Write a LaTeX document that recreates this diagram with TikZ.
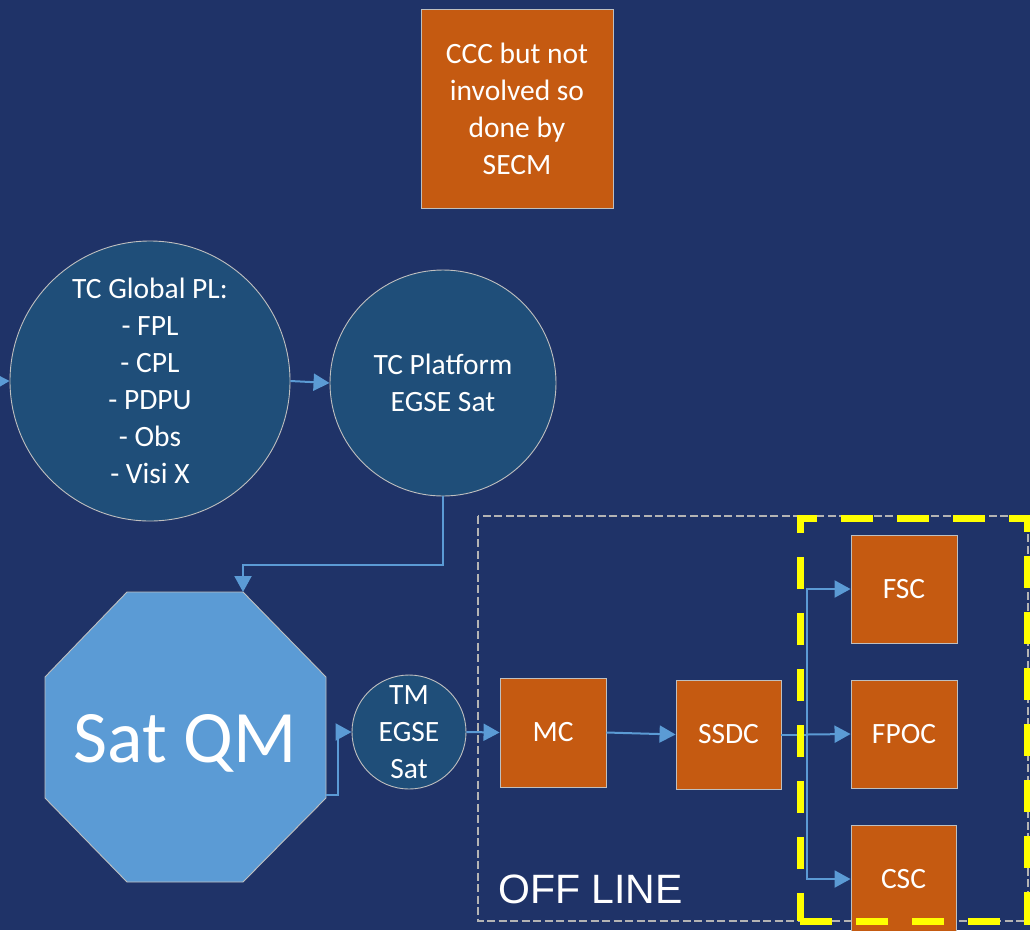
\documentclass[tikz,border=0pt]{standalone}
\usepackage{fontspec}
\setmainfont{Carlito}
\newfontfamily\arialf{Liberation Sans}
\usetikzlibrary{arrows.meta,calc}
\definecolor{bg}{RGB}{31,51,104}
\definecolor{circfill}{RGB}{31,78,121}
\definecolor{orng}{RGB}{197,90,17}
\definecolor{qmblue}{RGB}{91,155,213}
\definecolor{edgegray}{RGB}{191,191,191}
\definecolor{dashgray}{RGB}{180,180,180}
\definecolor{arrblue}{RGB}{91,155,213}
\definecolor{ylw}{RGB}{255,255,0}
\begin{document}
\begin{tikzpicture}[x=1pt,y=-1pt,
  txt/.style={text=white,font=\fontsize{29.5}{37}\selectfont,align=center},
  obox/.style={txt,rectangle,fill=orng,draw=edgegray,line width=0.9pt,inner sep=0pt},
  circ/.style={txt,circle,fill=circfill,draw=edgegray,line width=0.9pt,inner sep=0pt},
  arr/.style={draw=arrblue,line width=2pt,-{Triangle[length=16pt,width=17pt]}},
  conn/.style={draw=arrblue,line width=2pt}]
\fill[bg] (0,0) rectangle (1030,930);
\useasboundingbox (0,0) rectangle (1030,930);

% off-line dashed frame
\draw[dashgray,line width=2.5pt,dash pattern=on 8pt off 3.5pt] (478,516) rectangle (1028,921);

% top box
\node[obox,minimum width=192pt,minimum height=199pt] (ccc) at (517,108.5)
  {CCC but not\\involved so\\done by\\SECM};

% circles
\node[circ,minimum size=280pt] (glob) at (150,381)
  {TC Global PL:\\- FPL\\- CPL\\- PDPU\\- Obs\\- Visi X};
\node[circ,minimum size=226pt] (plat) at (443,383) {TC Platform\\EGSE Sat};
\node[circ,minimum size=114pt] (tm) at (409,732) {TM\\EGSE\\Sat};

% octagon
\filldraw[fill=qmblue,draw=edgegray,line width=0.9pt]
  (127,592) -- (243,592) -- (326,677) -- (326,798) -- (243,882) -- (127,882) -- (45,798) -- (45,677) -- cycle;
\coordinate (qmtop) at (243,592);
\coordinate (qmout) at (326,795);
\node[text=white,font=\fontsize{74}{80}\selectfont,inner sep=0pt,anchor=base] (qm) at (185,762) {Sat QM};

% orange boxes
\node[obox,minimum width=106pt,minimum height=109pt] (mc) at (553,732.5) {MC};
\node[obox,minimum width=105pt,minimum height=109pt] (ssdc) at (728.5,734.5) {SSDC};
\node[obox,minimum width=106pt,minimum height=108pt] (fsc) at (904,589) {FSC};
\node[obox,minimum width=106pt,minimum height=108pt] (fpoc) at (904,734) {FPOC};
\node[obox,minimum width=105pt,minimum height=108pt] (csc) at (903.5,879) {CSC};

% OFF LINE label
\node[text=white,font=\arialf\fontsize{41}{45}\selectfont,anchor=base west,inner sep=0pt] (offline) at (498,903) {OFF LINE};

% connectors
\coordinate (inleft) at (-30,382);
\draw[arr] (inleft) -- (glob.west);
\draw[arr] (glob.east) -- (plat.west);
\draw[arr] (plat.south) -- (plat.south |- 0,565) -| (qmtop);
\draw[arr] (qmout) -- ++(12,0) |- (tm.west);
\draw[arr] (tm.east) -- (mc.west);
\draw[arr] (mc.east) -- (ssdc.west);
\coordinate (trunk) at (807,734.5);
\draw[conn] (ssdc.east) -- (trunk);
\draw[arr] (trunk) |- (fsc.west);
\draw[arr] (trunk) -- (fpoc.west);
\draw[arr] (trunk) |- (csc.west);

% yellow dashed frame
\draw[ylw,line width=7pt,dash pattern=on 32pt off 24pt,dash phase=4pt,miter limit=10]
  (800,921) -- (800,518) -- (1027,518) -- (1027,921) -- cycle;
\end{tikzpicture}
\end{document}
